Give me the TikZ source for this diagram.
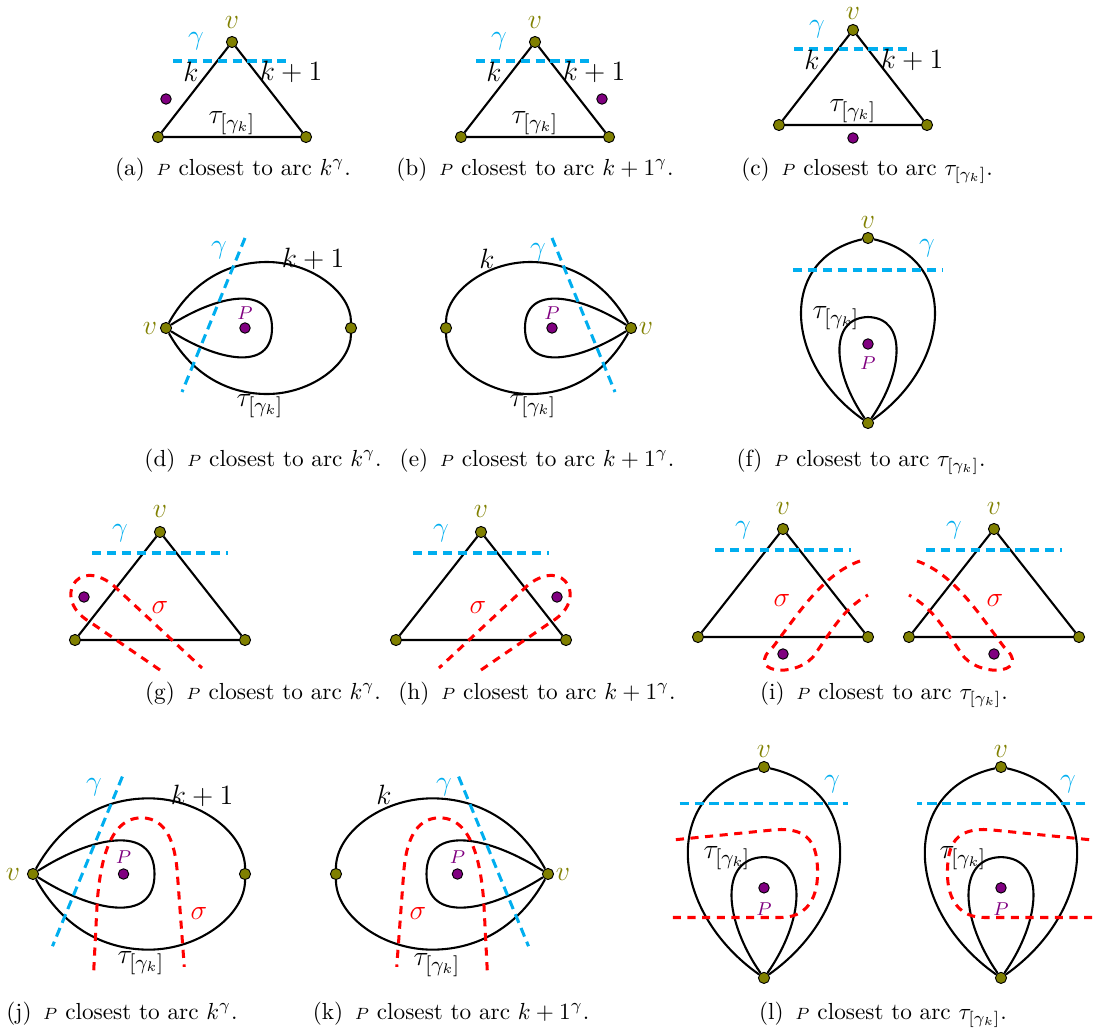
\documentclass[tikz,border=0pt]{standalone}
\usepackage{amsmath}
\usepackage{tikz}
\usetikzlibrary{positioning}
\definecolor{vertexol}{RGB}{128,128,0}
\definecolor{ptpurple}{RGB}{128,0,128}
\definecolor{gamcyan} {RGB}{0,174,239}
\definecolor{sigred}  {RGB}{255,0,0}
\tikzset{
  every node/.style={font=\normalsize},
  % --- nodes
  vert/.style  = {circle, draw=black, fill=vertexol, line width=0.4pt,
                  inner sep=0pt, minimum size=4.8pt},
  pdot/.style  = {circle, draw=black, fill=ptpurple, line width=0.4pt,
                  inner sep=0pt, minimum size=4.5pt},
  lv/.style    = {text=vertexol, font=\fontsize{13}{15}\selectfont, inner sep=0pt},
  lg/.style    = {text=gamcyan, font=\fontsize{13}{15}\selectfont, inner sep=0pt},
  ls/.style    = {text=sigred, font=\fontsize{13}{15}\selectfont, inner sep=0pt},
  lp/.style    = {text=ptpurple, font=\footnotesize, inner sep=0pt},
  la/.style    = {font=\fontsize{13}{15}\selectfont, inner sep=0pt},
  subcap/.style= {anchor=base, inner sep=0pt},
  % --- lines
  e/.style     = {line width=0.9pt, draw=black},
  gam/.style   = {line width=1.3pt, draw=gamcyan, dash pattern=on 4pt off 2.4pt},
  sig/.style   = {line width=1.3pt, draw=sigred, dash pattern=on 3.5pt off 2.8pt},
}
\begin{document}
\begin{tikzpicture}[x=0.43pt, y=-0.43pt]
  \useasboundingbox (0,0) rectangle (1093,1036);

  % --- row 1: triangles
  \foreach \n/\x/\y/\vy in {a/232/42/-20, b/535/42/-20, c/853/30/-17}{
    \begin{scope}[shift={(\x,\y)}]
      \node[vert] (\n-v) at (0,0) {};
      \node[vert] (\n-l) at (-74,95) {};
      \node[vert] (\n-r) at (74,95) {};
      \draw[e] (\n-v) -- (\n-l) -- (\n-r) -- (\n-v);
      \draw[gam] (-59,19) -- (59,19);
      \node[lv] (\n-lv) at (0,\vy) {$v$};
      \node[lg] (\n-lg) at (-36,-1) {$\gamma$};
      \node[la] (\n-lk) at (-41,30) {$k$};
      \node[la] (\n-lk1) at (59,30) {$k+1$};
      \node[la] (\n-lt) at (0,81) {$\tau_{[\gamma_k]}$};
    \end{scope}
  }
  \node[pdot] (a-p) at (166,99) {};
  \node[pdot] (b-p) at (602,99) {};
  \node[pdot] (c-p) at (853,138) {};
  \node[subcap] (a-cap) at (233,175) {(a)\enspace{\scriptsize$P$} closest to arc $k^{\gamma}$.};
  \node[subcap] (b-cap) at (535,175) {(b)\enspace{\scriptsize$P$} closest to arc $k+1^{\gamma}$.};
  \node[subcap] (c-cap) at (867,175) {(c)\enspace{\scriptsize$P$} closest to arc $\tau_{[\gamma_k]}$.};

  % --- row 2: loops at v
  \foreach \n/\x/\s in {d/166/1, e/631/-1}{
    \begin{scope}[shift={(\x,328)}, xscale=\s]
      \node[vert] (\n-v) at (0,0) {};
      \node[vert] (\n-w) at (185,0) {};
      \coordinate (\n-a) at (101,-66);
      \coordinate (\n-c) at (101,66);
      \coordinate (\n-t) at (106,0);
      \draw[e] (\n-v) .. controls +(25,-45) and +(-41,0) .. (\n-a)
                      .. controls +(44,0) and +(0,-36) .. (\n-w)
                      .. controls +(0,36) and +(44,0) .. (\n-c)
                      .. controls +(-41,0) and +(25,45) .. (\n-v);
      \draw[e] (\n-v) .. controls +(50,-32) and +(0,-45) .. (\n-t)
                      .. controls +(0,45) and +(50,32) .. (\n-v);
      \draw[gam] (79,-90) -- (16,64);
      \node[pdot] (\n-p) at (79,0) {};
      \node[lp] (\n-lp) at (79,-15) {$P$};
    \end{scope}
  }
  \node[lv] (d-lv) at (150,328) {$v$};
  \node[lg] (d-lg) at (219,250) {$\gamma$};
  \node[la] (d-lk) at (313,259) {$k+1$};
  \node[la] (d-lt) at (260,406) {$\tau_{[\gamma_k]}$};
  \node[lv] (e-lv) at (646,328) {$v$};
  \node[lg] (e-lg) at (538,252) {$\gamma$};
  \node[la] (e-lk) at (487,259) {$k$};
  \node[la] (e-lt) at (533,406) {$\tau_{[\gamma_k]}$};

  \begin{scope}[shift={(868,238)}]
    \node[vert] (f-v) at (0,0) {};
    \node[vert] (f-b) at (0,185) {};
    \coordinate (f-t) at (0,79);
    \draw[e] (f-v) .. controls +(-90,20) and +(-85,-60) .. (f-b)
                   .. controls +(85,-60) and +(90,20) .. (f-v);
    \draw[e] (f-b) .. controls +(-35,-50) and +(-40,1) .. (f-t)
                   .. controls +(40,1) and +(35,-50) .. (f-b);
    \draw[gam] (-75,32) -- (74,32);
    \node[pdot] (f-p) at (0,106) {};
  \end{scope}
  \node[lv] (f-lv) at (868,222) {$v$};
  \node[lg] (f-lg) at (927,248) {$\gamma$};
  \node[la] (f-lt) at (836,318) {$\tau_{[\gamma_k]}$};
  \node[lp] (f-lp) at (868,363) {$P$};

  \node[subcap] (d-cap) at (263,466) {(d)\enspace{\scriptsize$P$} closest to arc $k^{\gamma}$.};
  \node[subcap] (e-cap) at (537,466) {(e)\enspace{\scriptsize$P$} closest to arc $k+1^{\gamma}$.};
  \node[subcap] (f-cap) at (861,466) {(f)\enspace{\scriptsize$P$} closest to arc $\tau_{[\gamma_k]}$.};

  % --- row 3: triangles crossed by sigma
  \foreach \n/\x/\y in {g/160/532, h/481/532, i1/783/529, i2/994/529}{
    \begin{scope}[shift={(\x,\y)}]
      \node[vert] (\n-v) at (0,0) {};
      \node[vert] (\n-l) at (-85,108) {};
      \node[vert] (\n-r) at (85,108) {};
      \draw[e] (\n-v) -- (\n-l) -- (\n-r) -- (\n-v);
      \draw[gam] (-68,21) -- (68,21);
      \node[lv] (\n-lv) at (0,-21) {$v$};
      \node[lg] (\n-lg) at (-40,1) {$\gamma$};
    \end{scope}
  }
  \foreach \n/\x/\s in {g/160/1, h/481/-1}{
    \begin{scope}[shift={(\x,532)}, xscale=\s]
      \node[pdot] (\n-p) at (-76,65) {};
      \draw[sig] (0,138) -- (-70,90) .. controls +(-38,-22) and +(-37,-29) .. (-47,53) -- (42,136);
    \end{scope}
  }
  \foreach \n/\x/\s in {i1/783/1, i2/994/-1}{
    \begin{scope}[shift={(\x,529)}, xscale=\s]
      \node[pdot] (\n-p) at (0,125) {};
      \draw[sig] (77,32) .. controls (40,45) and (15,85) .. (-10,118)
                 .. controls (-38,143) and (10,150) .. (30,128)
                 .. controls (50,100) and (60,80) .. (85,66);
    \end{scope}
  }
  \node[ls] (g-ls) at (160,607) {$\sigma$};
  \node[ls] (h-ls) at (478,607) {$\sigma$};
  \node[ls] (i1-ls) at (782,600) {$\sigma$};
  \node[ls] (i2-ls) at (995,600) {$\sigma$};

  \node[subcap] (g-cap) at (263,699) {(g)\enspace{\scriptsize$P$} closest to arc $k^{\gamma}$.};
  \node[subcap] (h-cap) at (537,699) {(h)\enspace{\scriptsize$P$} closest to arc $k+1^{\gamma}$.};
  \node[subcap] (i-cap) at (884,699) {(i)\enspace{\scriptsize$P$} closest to arc $\tau_{[\gamma_k]}$.};

  % --- row 4: loops crossed by sigma
  \foreach \n/\x/\s in {j/33/1.146, k/548/-1.146}{
    \begin{scope}[shift={(\x,874)}, xscale=\s, yscale=1.146]
      \node[vert] (\n-v) at (0,0) {};
      \node[vert] (\n-w) at (185,0) {};
      \coordinate (\n-a) at (101,-66);
      \coordinate (\n-c) at (101,66);
      \coordinate (\n-t) at (106,0);
      \draw[e] (\n-v) .. controls +(25,-45) and +(-41,0) .. (\n-a)
                      .. controls +(44,0) and +(0,-36) .. (\n-w)
                      .. controls +(0,36) and +(44,0) .. (\n-c)
                      .. controls +(-41,0) and +(25,45) .. (\n-v);
      \draw[e] (\n-v) .. controls +(50,-32) and +(0,-45) .. (\n-t)
                      .. controls +(0,45) and +(50,32) .. (\n-v);
      \draw[gam] (78,-85) -- (17,63);
      \draw[sig] (53,84) -- (56,25) .. controls (60,-30) and (75,-50) .. (96,-49)
                 .. controls (115,-48) and (124,-30) .. (126,0) -- (132,81);
      \node[pdot] (\n-p) at (79,0) {};
      \node[lp] (\n-lp) at (79,-15) {$P$};
    \end{scope}
  }
  \node[lv] (j-lv) at (13,874) {$v$};
  \node[lg] (j-lg) at (94,787) {$\gamma$};
  \node[la] (j-lk) at (202,796) {$k+1$};
  \node[la] (j-lt) at (141,963) {$\tau_{[\gamma_k]}$};
  \node[ls] (j-ls) at (199,913) {$\sigma$};
  \node[lv] (k-lv) at (563,874) {$v$};
  \node[lg] (k-lg) at (444,787) {$\gamma$};
  \node[la] (k-lk) at (384,795) {$k$};
  \node[la] (k-lt) at (437,965) {$\tau_{[\gamma_k]}$};
  \node[ls] (k-ls) at (418,913) {$\sigma$};

  \foreach \n/\x/\s in {l1/764/1.14, l2/1001/-1.14}{
    \begin{scope}[shift={(\x,767)}, xscale=\s, yscale=1.14]
      \node[vert] (\n-v) at (0,0) {};
      \node[vert] (\n-b) at (0,185) {};
      \coordinate (\n-t) at (0,79);
      \draw[e] (\n-v) .. controls +(-90,20) and +(-85,-60) .. (\n-b)
                      .. controls +(85,-60) and +(90,20) .. (\n-v);
      \draw[e] (\n-b) .. controls +(-35,-50) and +(-40,1) .. (\n-t)
                      .. controls +(40,1) and +(35,-50) .. (\n-b);
      \draw[gam] (-74,32) -- (74,32);
      \draw[sig] (-80,132) -- (15,132) .. controls +(20,0) and +(0,25) .. (47,93)
                 .. controls +(0,-25) and +(30,-2) .. (10,55) -- (-80,64);
      \node[pdot] (\n-p) at (0,106) {};
    \end{scope}
  }
  \node[lv] (l1-lv) at (764,751) {$v$};
  \node[lg] (l1-lg) at (832,784) {$\gamma$};
  \node[la] (l1-lt) at (727,858) {$\tau_{[\gamma_k]}$};
  \node[lp] (l1-lp) at (764,909) {$P$};
  \node[lv] (l2-lv) at (1001,751) {$v$};
  \node[lg] (l2-lg) at (1068,784) {$\gamma$};
  \node[la] (l2-lt) at (963,858) {$\tau_{[\gamma_k]}$};
  \node[lp] (l2-lp) at (1001,909) {$P$};

  \node[subcap] (j-cap) at (122,1019) {(j)\enspace{\scriptsize$P$} closest to arc $k^{\gamma}$.};
  \node[subcap] (k-cap) at (451,1019) {(k)\enspace{\scriptsize$P$} closest to arc $k+1^{\gamma}$.};
  \node[subcap] (l-cap) at (883,1019) {(l)\enspace{\scriptsize$P$} closest to arc $\tau_{[\gamma_k]}$.};
\end{tikzpicture}
\end{document}
